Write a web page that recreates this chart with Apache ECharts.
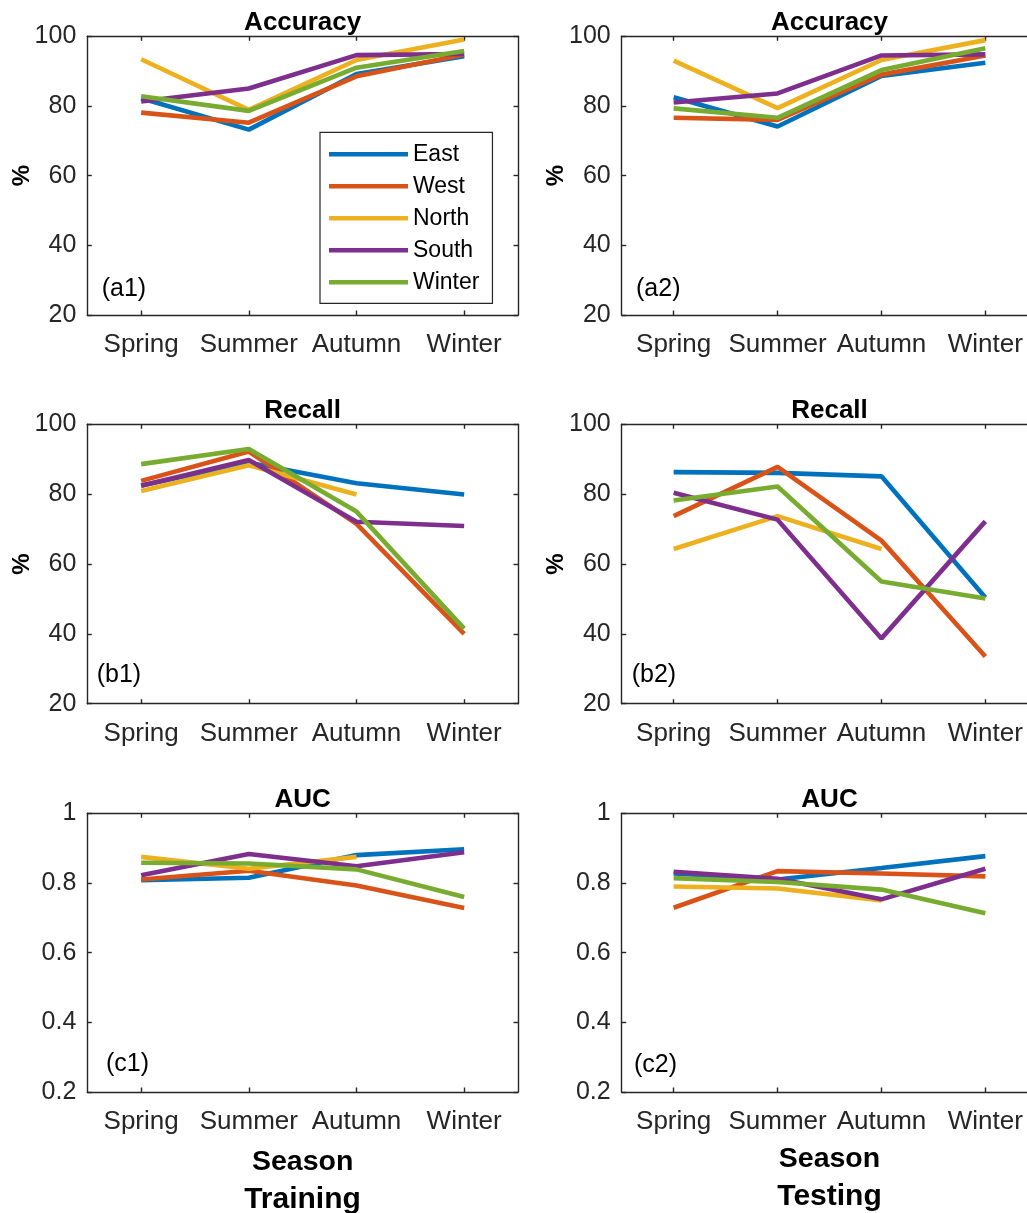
<!DOCTYPE html>
<html>
<head>
<meta charset="utf-8">
<script src="https://cdn.jsdelivr.net/npm/echarts@6/dist/echarts.min.js"></script>
<style>
  html, body { margin: 0; padding: 0; background: #fff; }
  #chart { width: 1027px; height: 1213px; }
</style>
</head>
<body>
<div id="chart"></div>
<script>
// Seasons on the x axis and the five region models plotted in every panel
const seasons = ['Spring', 'Summer', 'Autumn', 'Winter'];
const regions = ['East', 'West', 'North', 'South', 'Winter'];
const colors = ['#0072BD', '#D95319', '#EDB120', '#7E2F8E', '#77AC30'];

// y tick labels
const pctTicks = [20, 40, 60, 80, 100];
const aucTicks = [0.2, 0.4, 0.6, 0.8, 1];

// Accuracy (%), rows follow `regions`
const accTrain = [
  [82.2, 73.2, 89.2, 94.3],
  [78.1, 75.2, 88.5, 94.8],
  [93.4, 78.9, 93.2, 99.1],
  [81.3, 85.0, 94.6, 94.9],
  [82.8, 78.6, 91.0, 95.8]
];
const accTest = [
  [82.5, 74.1, 88.6, 92.4],
  [76.6, 76.0, 89.0, 94.5],
  [93.0, 79.4, 93.2, 98.9],
  [81.0, 83.6, 94.5, 94.8],
  [79.3, 76.6, 90.3, 96.6]
];

// Recall (%)
const recTrain = [
  [82.5, 89.0, 83.1, 79.9],
  [83.8, 92.2, 71.5, 40.0],
  [80.9, 88.3, 79.9, null],
  [82.4, 89.8, 72.1, 70.9],
  [88.6, 92.9, 75.0, 41.5]
];
const recTest = [
  [86.3, 86.1, 85.1, 50.4],
  [73.7, 87.8, 66.7, 33.5],
  [64.3, 73.7, 64.3, null],
  [80.4, 72.7, 38.7, 72.2],
  [78.2, 82.2, 55.0, 50.1]
];

// AUC
const aucTrain = [
  [0.808, 0.815, 0.880, 0.897],
  [0.810, 0.835, 0.793, 0.728],
  [0.875, 0.841, 0.875, null],
  [0.822, 0.883, 0.848, 0.888],
  [0.858, 0.856, 0.839, 0.760]
];
const aucTest = [
  [0.827, 0.810, 0.843, 0.877],
  [0.729, 0.834, 0.827, 0.819],
  [0.790, 0.784, 0.750, null],
  [0.832, 0.812, 0.753, 0.841],
  [0.814, 0.803, 0.781, 0.713]
];

const FONT = '"Liberation Sans", Arial, Helvetica, sans-serif';
const INK = '#262626';

// panel layout: columns (training, testing) x rows (accuracy, recall, AUC)
const cols = [{ left: 87.3, width: 430.7 }, { left: 621.7, width: 415.6 }];
const rows = [{ top: 36.3, height: 278.7 }, { top: 424.3, height: 279.4 }, { top: 813.3, height: 278.7 }];

const panels = [
  { row: 0, col: 0, data: accTrain, ticks: pctTicks, title: 'Accuracy', tag: '(a1)', tagX: 101.7, tagY: 289.5, pct: true },
  { row: 0, col: 1, data: accTest,  ticks: pctTicks, title: 'Accuracy', tag: '(a2)', tagX: 636,   tagY: 289.5, pct: true },
  { row: 1, col: 0, data: recTrain, ticks: pctTicks, title: 'Recall',   tag: '(b1)', tagX: 96.7,  tagY: 675,   pct: true },
  { row: 1, col: 1, data: recTest,  ticks: pctTicks, title: 'Recall',   tag: '(b2)', tagX: 631.7, tagY: 675,   pct: true },
  { row: 2, col: 0, data: aucTrain, ticks: aucTicks, title: 'AUC',      tag: '(c1)', tagX: 106,   tagY: 1064,  pct: false },
  { row: 2, col: 1, data: aucTest,  ticks: aucTicks, title: 'AUC',      tag: '(c2)', tagX: 634,   tagY: 1065,  pct: false }
];

const grid = [], xAxis = [], yAxis = [], series = [], title = [];
const tickLen = 4.5;
const lineStyleAxis = { color: INK, width: 1.4 };

panels.forEach((p, i) => {
  const c = cols[p.col], r = rows[p.row];
  grid.push({
    left: c.left, top: r.top, width: c.width, height: r.height,
    containLabel: false, outerBoundsMode: 'none'
  });

  const isBottom = p.row === 2;
  // bottom x axis with labels
  xAxis.push({
    type: 'category', gridIndex: i, data: seasons, boundaryGap: true, position: 'bottom',
    axisLine: { show: true, lineStyle: lineStyleAxis },
    axisTick: { show: true, inside: true, alignWithLabel: true, length: tickLen, lineStyle: lineStyleAxis },
    axisLabel: { show: true, color: INK, fontSize: 26, fontFamily: FONT, margin: 17, interval: 0 },
    splitLine: { show: false },
    name: isBottom ? 'Season' : '',
    nameLocation: 'middle',
    nameGap: p.col === 0 ? 56 : 53,
    nameTextStyle: { color: '#000', fontSize: 28.5, fontWeight: 'bold', fontFamily: FONT }
  });
  // top x axis closing the box
  xAxis.push({
    type: 'category', gridIndex: i, data: seasons, boundaryGap: true, position: 'top',
    axisLine: { show: true, lineStyle: lineStyleAxis },
    axisTick: { show: true, inside: true, alignWithLabel: true, length: tickLen, lineStyle: lineStyleAxis },
    axisLabel: { show: false }, splitLine: { show: false }
  });

  const tmin = p.ticks[0], tmax = p.ticks[p.ticks.length - 1];
  const step = +(p.ticks[1] - p.ticks[0]).toFixed(6);
  const yBase = {
    type: 'value', gridIndex: i, min: tmin, max: tmax, interval: step,
    axisLine: { show: true, lineStyle: lineStyleAxis },
    axisTick: { show: true, inside: true, length: tickLen, lineStyle: lineStyleAxis },
    splitLine: { show: false }
  };
  yAxis.push(Object.assign({}, yBase, {
    position: 'left',
    axisLabel: {
      show: true, color: INK, fontSize: 25, fontFamily: FONT, margin: 11,
      formatter: v => String(+v.toFixed(4))
    },
    name: p.pct ? '%' : '',
    nameLocation: 'middle', nameRotate: 90, nameGap: 53, nameMoveOverlap: false,
    nameTextStyle: { color: '#000', fontSize: 24, fontWeight: 'bold', fontFamily: FONT }
  }));
  yAxis.push(Object.assign({}, yBase, { position: 'right', axisLabel: { show: false } }));

  p.data.forEach((vals, k) => {
    series.push({
      type: 'line', name: regions[k], xAxisIndex: 2 * i, yAxisIndex: 2 * i,
      data: vals, showSymbol: false, symbol: 'none', connectNulls: false,
      lineStyle: { color: colors[k], width: 4.6 }, itemStyle: { color: colors[k] },
      animation: false, silent: true
    });
  });

  // panel heading and tag
  title.push({
    text: p.title, left: c.left + c.width / 2, top: r.top - 13.5, padding: 0,
    textAlign: 'center', textVerticalAlign: 'middle',
    textStyle: { color: '#000', fontSize: 26, fontWeight: 'bold', fontFamily: FONT }
  });
  title.push({
    text: p.tag, left: p.tagX, top: p.tagY, padding: 0,
    textAlign: 'left', textVerticalAlign: 'middle',
    textStyle: { color: '#000', fontSize: 25, fontWeight: 'normal', fontFamily: FONT }
  });
});

// column captions
title.push({
  text: 'Training', left: 302.5, top: 1200, padding: 0, textAlign: 'center', textVerticalAlign: 'middle',
  textStyle: { color: '#000', fontSize: 30, fontWeight: 'bold', fontFamily: FONT }
});
title.push({
  text: 'Testing', left: 829.5, top: 1197, padding: 0, textAlign: 'center', textVerticalAlign: 'middle',
  textStyle: { color: '#000', fontSize: 30, fontWeight: 'bold', fontFamily: FONT }
});

const chart = echarts.init(document.getElementById('chart'), null, { renderer: 'canvas' });
chart.setOption({
  animation: false,
  backgroundColor: '#ffffff',
  color: colors,
  title: title,
  legend: {
    data: regions,
    orient: 'vertical',
    left: 320, top: 132.3,
    icon: 'rect', itemWidth: 79, itemHeight: 4.6, itemGap: 8,
    padding: [10, 13, 9, 9],
    backgroundColor: '#ffffff',
    borderColor: INK, borderWidth: 1.2,
    selectedMode: false,
    textStyle: { color: '#000', fontSize: 23, fontFamily: FONT, lineHeight: 24 }
  },
  grid: grid,
  xAxis: xAxis,
  yAxis: yAxis,
  series: series
});
</script>
</body>
</html>
